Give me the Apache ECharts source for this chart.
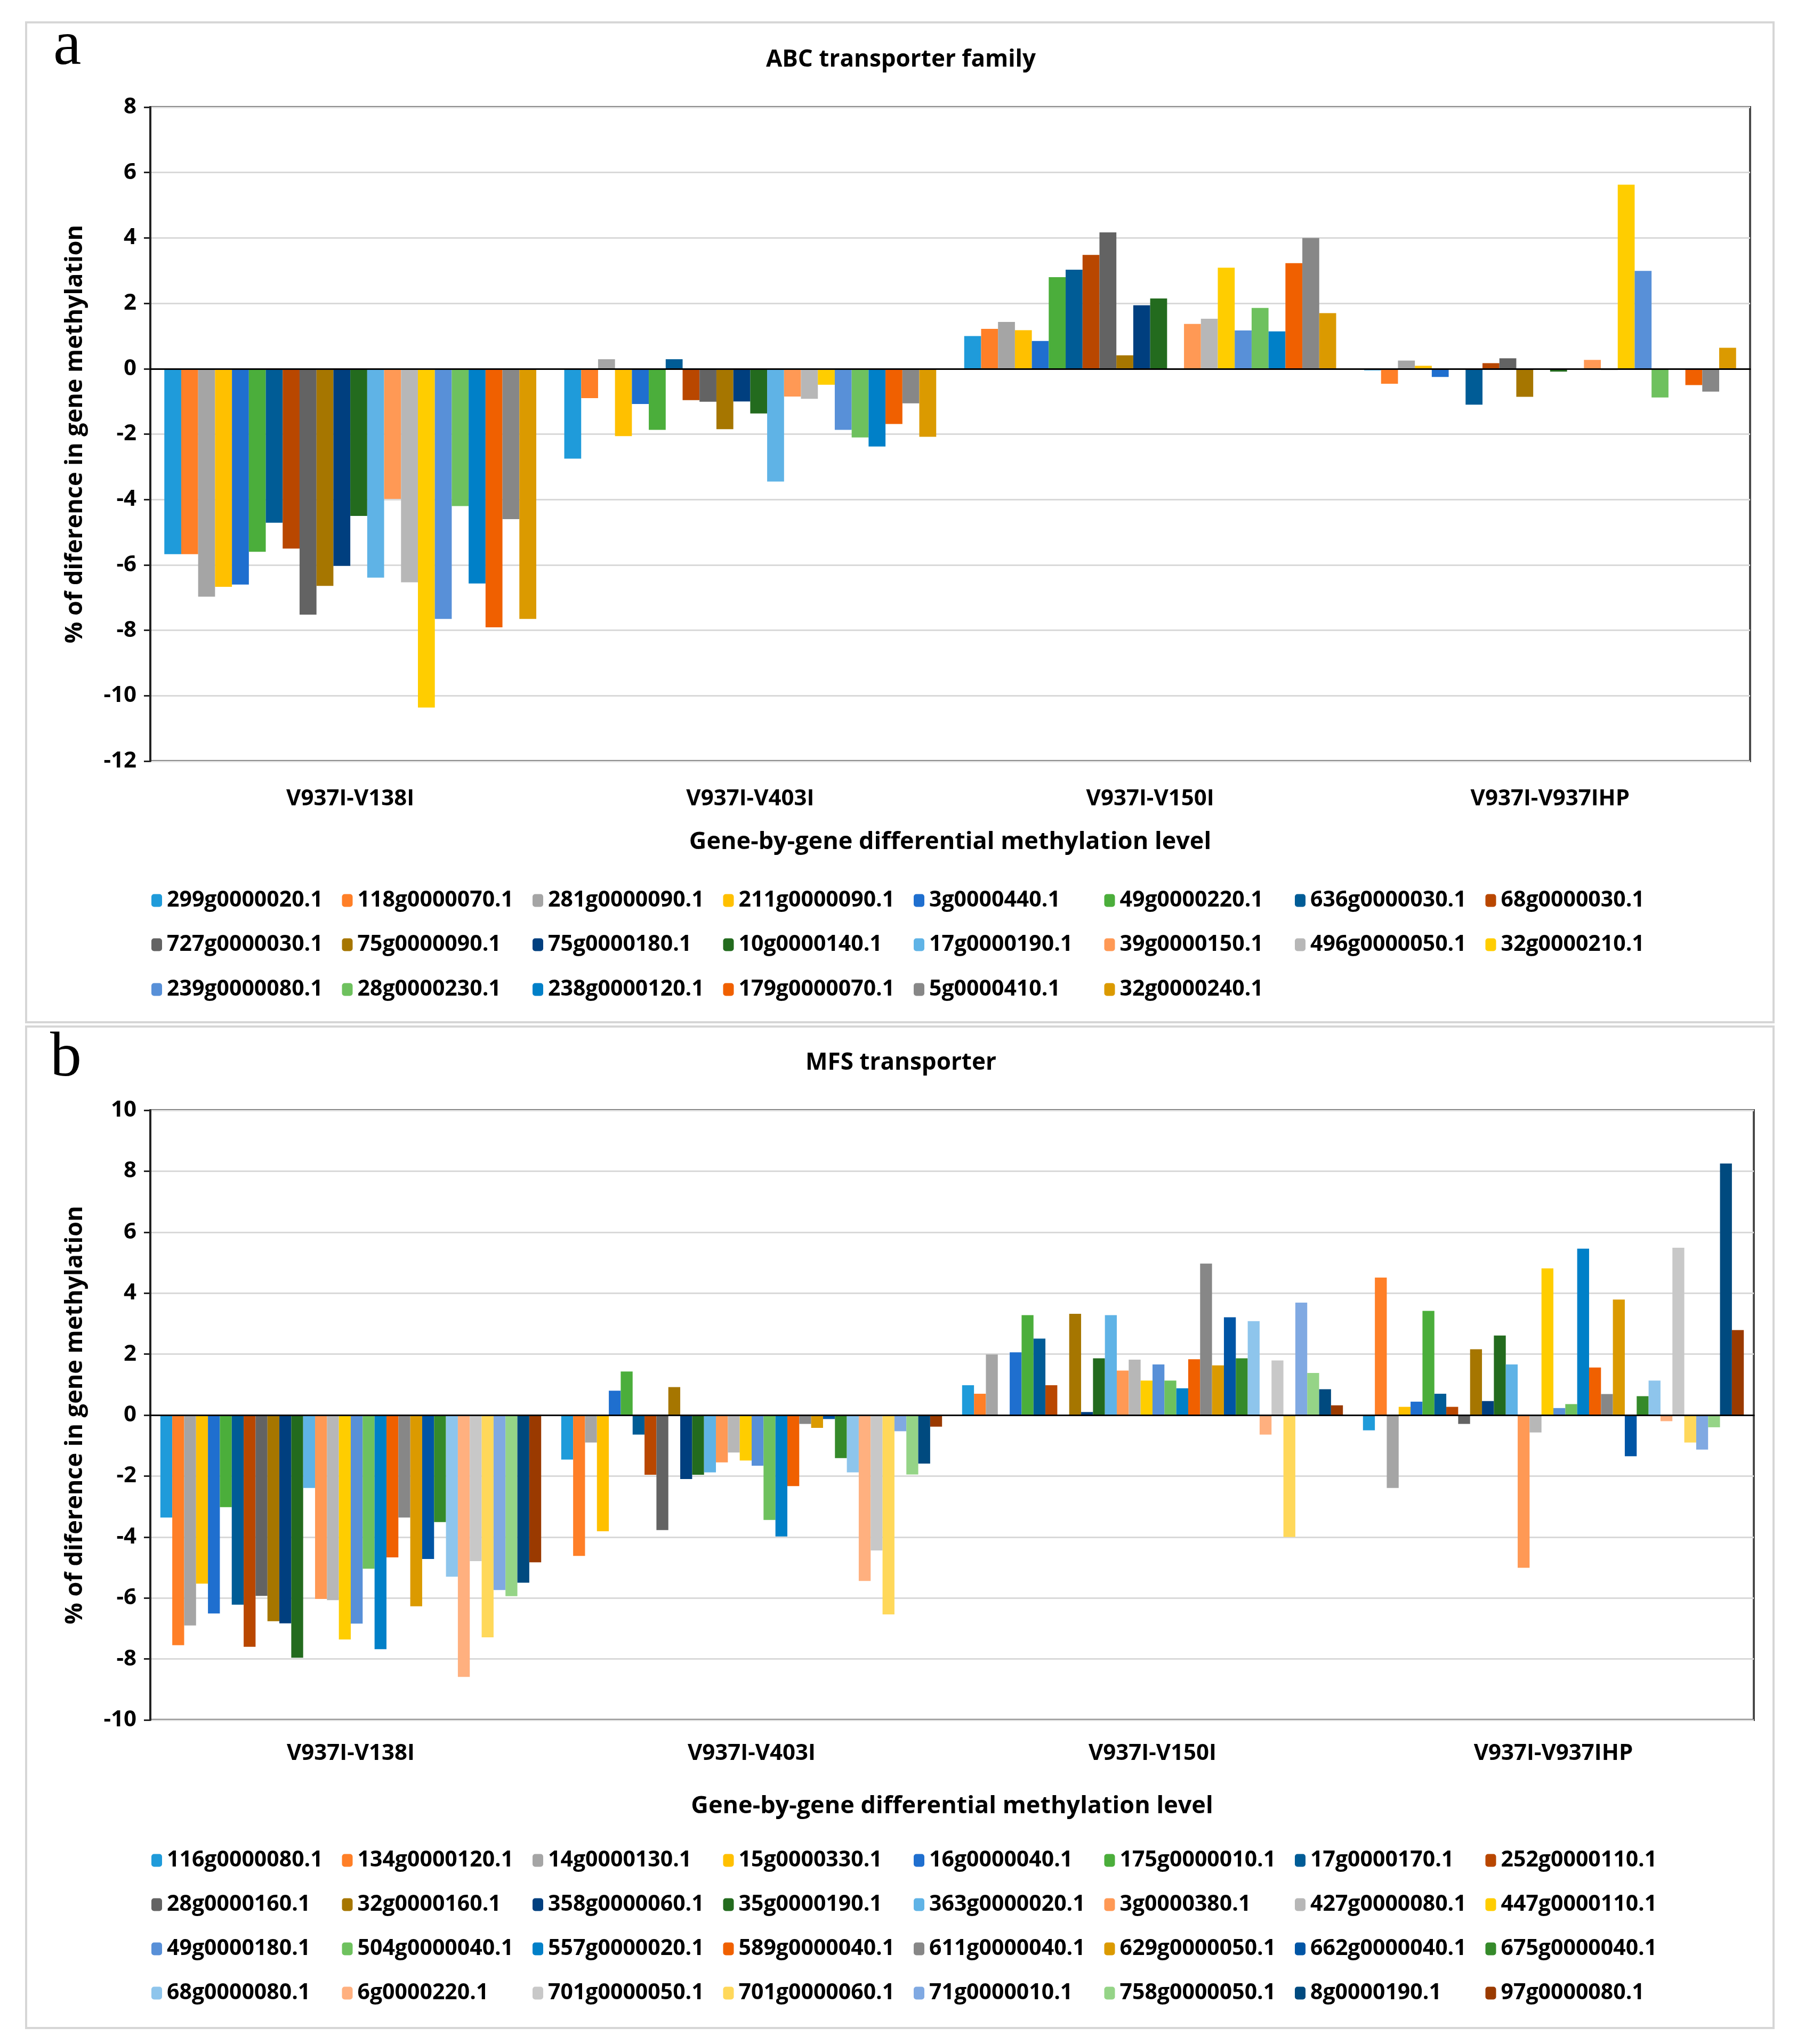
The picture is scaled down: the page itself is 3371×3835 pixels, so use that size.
<!DOCTYPE html>
<html>
<head>
<meta charset="utf-8">
<script src="https://cdn.jsdelivr.net/npm/echarts@6/dist/echarts.min.js"></script>
<style>
html,body{margin:0;padding:0;background:#fff;}
#c{width:3371px;height:3835px;}
</style>
</head>
<body>
<div id="c"></div>
<script>
// ---------- DATA ----------
const categories = ['V937I-V138I', 'V937I-V403I', 'V937I-V150I', 'V937I-V937IHP'];

// Panel a: ABC transporter family
const abcGenes = ['299g0000020.1','118g0000070.1','281g0000090.1','211g0000090.1','3g0000440.1','49g0000220.1','636g0000030.1','68g0000030.1',
  '727g0000030.1','75g0000090.1','75g0000180.1','10g0000140.1','17g0000190.1','39g0000150.1','496g0000050.1','32g0000210.1',
  '239g0000080.1','28g0000230.1','238g0000120.1','179g0000070.1','5g0000410.1','32g0000240.1'];
const abcV138I = [-5.67,-5.67,-6.97,-6.67,-6.6,-5.6,-4.71,-5.5,-7.52,-6.64,-6.03,-4.5,-6.39,-3.98,-6.53,-10.36,-7.65,-4.2,-6.57,-7.91,-4.6,-7.65];
const abcV403I = [-2.75,-0.9,0.29,-2.06,-1.08,-1.87,0.29,-0.96,-1.01,-1.85,-1.0,-1.37,-3.45,-0.85,-0.92,-0.49,-1.87,-2.1,-2.38,-1.69,-1.06,-2.08];
const abcV150I = [1.0,1.22,1.43,1.18,0.85,2.8,3.03,3.48,4.17,0.41,1.94,2.15,0,1.37,1.53,3.09,1.17,1.86,1.14,3.23,4.0,1.7];
const abcV937IHP = [-0.05,-0.46,0.25,0.09,-0.25,0,-1.1,0.17,0.32,-0.86,0,-0.09,0,0.27,-0.04,5.63,2.99,-0.88,0,-0.5,-0.7,0.64];

// Panel b: MFS transporter
const mfsGenes = ['116g0000080.1','134g0000120.1','14g0000130.1','15g0000330.1','16g0000040.1','175g0000010.1','17g0000170.1','252g0000110.1',
  '28g0000160.1','32g0000160.1','358g0000060.1','35g0000190.1','363g0000020.1','3g0000380.1','427g0000080.1','447g0000110.1',
  '49g0000180.1','504g0000040.1','557g0000020.1','589g0000040.1','611g0000040.1','629g0000050.1','662g0000040.1','675g0000040.1',
  '68g0000080.1','6g0000220.1','701g0000050.1','701g0000060.1','71g0000010.1','758g0000050.1','8g0000190.1','97g0000080.1'];
const mfsV138I = [-3.36,-7.55,-6.9,-5.53,-6.51,-3.02,-6.22,-7.6,-5.93,-6.76,-6.83,-7.96,-2.39,-6.03,-6.07,-7.36,-6.84,-5.04,-7.68,-4.67,-3.36,-6.27,-4.72,-3.51,-5.3,-8.59,-4.79,-7.29,-5.74,-5.94,-5.5,-4.83];
const mfsV403I = [-1.46,-4.62,-0.9,-3.81,0.8,1.43,-0.64,-1.96,-3.77,0.92,-2.1,-1.96,-1.88,-1.55,-1.23,-1.49,-1.66,-3.44,-3.98,-2.33,-0.29,-0.42,-0.13,-1.41,-1.88,-5.44,-4.44,-6.54,-0.53,-1.95,-1.59,-0.38];
const mfsV150I = [0.98,0.7,1.99,0,2.06,3.28,2.51,0.98,0,3.32,0.1,1.86,3.28,1.46,1.82,1.13,1.66,1.13,0.88,1.83,4.97,1.63,3.21,1.86,3.08,-0.64,1.79,-4.0,3.69,1.38,0.85,0.32];
const mfsV937IHP = [-0.5,4.51,-2.39,0.27,0.44,3.42,0.7,0.27,-0.29,2.16,0.46,2.61,1.66,-5.01,-0.57,4.81,0.23,0.36,5.46,1.56,0.69,3.79,-1.35,0.62,1.13,-0.2,5.49,-0.9,-1.13,-0.4,8.25,2.79];

const palette = ['#1F9BDA','#FF7F27','#A5A5A5','#FFC000','#1F6FCF','#4BAE3B','#005C96','#B94700',
  '#636363','#A67600','#003F7F','#236B1E','#5FB3E6','#FF9955','#B7B7B7','#FFCD00',
  '#5890D8','#6EC15E','#0080C8','#F06000','#878787','#DB9A00','#0055A5','#358A2A',
  '#8EC5EC','#FFB07F','#C8C8C8','#FFD85A','#80A9E2','#95D487','#004A7F','#9A3A00'];

// ---------- CHART ----------
const FONT = '"Open Sans", "DejaVu Sans", sans-serif';
const chart = echarts.init(document.getElementById('c'), null, {renderer: 'canvas'});

const grids = [
  {left: 282, top: 201, width: 3001, height: 1227, show: true, borderColor: '#4a4a4a', borderWidth: 4, backgroundColor: '#fff'},
  {left: 282, top: 2083, width: 3008, height: 1144, show: true, borderColor: '#4a4a4a', borderWidth: 4, backgroundColor: '#fff'}
];

function zeroAxis(gi) {
  return {type: 'category', gridIndex: gi, data: categories, position: 'bottom',
    axisLine: {show: true, onZero: true, lineStyle: {color: '#000', width: 3}},
    axisTick: {show: false}, axisLabel: {show: false}, splitLine: {show: false}, z: 5};
}
function labelAxis(gi, margin, nameGap) {
  return {type: 'category', gridIndex: gi, data: categories, position: 'bottom',
    axisLine: {show: false, onZero: false}, axisTick: {show: false},
    axisLabel: {show: true, margin: margin, color: '#000', fontSize: 42, fontWeight: 'bold', fontFamily: FONT},
    name: 'Gene-by-gene differential methylation level', nameLocation: 'middle', nameGap: nameGap,
    nameTextStyle: {color: '#000', fontSize: 45, fontWeight: 'bold', fontFamily: FONT}};
}
function yAxis(gi, min, max) {
  return {type: 'value', gridIndex: gi, min: min, max: max, interval: 2,
    axisLine: {show: true, lineStyle: {color: '#222', width: 4}},
    axisTick: {show: true, length: 12, lineStyle: {color: '#222', width: 3}},
    axisLabel: {color: '#000', fontSize: 42, fontWeight: 'bold', fontFamily: FONT, margin: 26},
    splitLine: {show: true, lineStyle: {color: '#D9D9D9', width: 3}},
    name: '% of diference in gene methylation', nameLocation: 'middle', nameGap: 118, nameRotate: 90,
    nameTextStyle: {color: '#000', fontSize: 45, fontWeight: 'bold', fontFamily: FONT}};
}

const series = [];
abcGenes.forEach((g, i) => {
  series.push({type: 'bar', name: g, xAxisIndex: 0, yAxisIndex: 0,
    data: [abcV138I[i], abcV403I[i], abcV150I[i], abcV937IHP[i]],
    itemStyle: {color: palette[i]}, barGap: '0%', barCategoryGap: '7%'});
});
mfsGenes.forEach((g, i) => {
  series.push({type: 'bar', name: g, xAxisIndex: 2, yAxisIndex: 1,
    data: [mfsV138I[i], mfsV403I[i], mfsV150I[i], mfsV937IHP[i]],
    itemStyle: {color: palette[i]}, barGap: '0%', barCategoryGap: '5%'});
});

// Legends: fixed grid of 8 columns
const legends = [];
const colX0 = 284, colW = 357.5;
function addLegend(names, rowTops) {
  names.forEach((n, i) => {
    const r = Math.floor(i / 8), c = i % 8;
    legends.push({data: [n], left: colX0 + c * colW, top: rowTops[r] - 24, selectedMode: false,
      itemWidth: 20, itemHeight: 24, itemGap: 0, padding: 0,
      textStyle: {color: '#000', fontSize: 41, fontWeight: 'bold', fontFamily: FONT, padding: [0, 0, 0, 4]}});
  });
}
addLegend(abcGenes, [1693, 1776, 1860]);
addLegend(mfsGenes, [3494, 3577, 3660, 3743]);

const graphics = [
  {type: 'rect', shape: {x: 49, y: 42, width: 3278, height: 1876}, style: {fill: 'none', stroke: '#D6D6D6', lineWidth: 4}, z: -10},
  {type: 'rect', shape: {x: 49, y: 1926, width: 3278, height: 1879}, style: {fill: 'none', stroke: '#D6D6D6', lineWidth: 4}, z: -10},
  {type: 'text', style: {text: 'a', x: 100, y: 30, textVerticalAlign: 'top', font: '118px "Liberation Serif", "DejaVu Serif", serif', fill: '#000'}},
  {type: 'text', style: {text: 'b', x: 94, y: 1928, textVerticalAlign: 'top', font: '118px "Liberation Serif", "DejaVu Serif", serif', fill: '#000'}},
  {type: 'text', style: {text: 'ABC transporter family', x: 1690, y: 112, textAlign: 'center', textVerticalAlign: 'middle', font: 'bold 44px "Open Sans", sans-serif', fill: '#000'}},
  {type: 'text', style: {text: 'MFS transporter', x: 1690, y: 1994, textAlign: 'center', textVerticalAlign: 'middle', font: 'bold 44px "Open Sans", sans-serif', fill: '#000'}}
];

chart.setOption({
  animation: false,
  backgroundColor: '#fff',
  grid: grids,
  xAxis: [zeroAxis(0), labelAxis(0, 50, 130), zeroAxis(1), labelAxis(1, 42, 140)],
  yAxis: [yAxis(0, -12, 8), yAxis(1, -10, 10)],
  legend: legends,
  series: series,
  graphic: graphics
});
</script>
</body>
</html>
